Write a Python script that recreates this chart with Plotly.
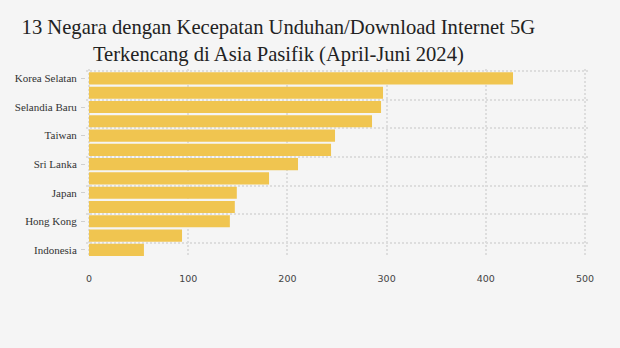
import plotly.graph_objects as go

# Median 5G download speed (Mbps), April–June 2024, fastest first
countries = [
    "Korea Selatan", "Malaysia", "Selandia Baru", "Australia", "Taiwan",
    "Singapura", "Sri Lanka", "Thailand", "Japan", "Filipina",
    "Hong Kong", "India", "Indonesia",
]
speeds = [427.4, 296.4, 294.4, 285.3, 248.0, 244.0, 210.7, 181.5, 149.0, 147.0, 142.0, 93.8, 55.4]

positions = list(range(len(countries)))
label_pos = positions[::2]
label_text = countries[::2]
# horizontal grid runs along the edge of every pair of bars
grid_pos = [-0.5] + [p + 1.5 for p in positions[::2][:-1]]

x_ticks = [0, 100, 200, 300, 400, 500]
y_range = [12.5, -0.66]

fig = go.Figure()
fig.add_trace(go.Bar(
    x=speeds,
    y=positions,
    orientation="h",
    marker=dict(color="#f0c550", line=dict(width=0)),
    hovertemplate="%{text}: %{x} Mbps<extra></extra>",
    text=countries,
    textposition="none",
))
# invisible carrier so the pair-boundary grid axis gets drawn
fig.add_trace(go.Scatter(
    x=[0] * len(grid_pos),
    y=grid_pos,
    yaxis="y2",
    mode="markers",
    marker=dict(opacity=0),
    hoverinfo="skip",
))

grid_style = dict(gridcolor="#dddddd", griddash="2px,2px", gridwidth=2)

fig.update_layout(
    width=620,
    height=348,
    paper_bgcolor="#f5f5f5",
    plot_bgcolor="#f5f5f5",
    margin=dict(l=86, r=32, t=69, b=91),
    bargap=0.15,
    showlegend=False,
    title=dict(
        text="13 Negara dengan Kecepatan Unduhan/Download Internet 5G<br>Terkencang di Asia Pasifik (April-Juni 2024)",
        x=0.449, xanchor="center",
        yref="container", y=0.902, yanchor="top",
        font=dict(family="Liberation Serif", size=20.6, color="#222222"),
    ),
    xaxis=dict(
        range=[-3, 503],
        tickvals=x_ticks,
        showgrid=True,
        zeroline=False,
        showline=False,
        ticks="",
        tickfont=dict(family="DejaVu Sans", size=9.5, color="#444444"),
        ticklabelstandoff=14,
        **grid_style,
    ),
    yaxis=dict(
        range=y_range,
        tickvals=label_pos,
        ticktext=label_text,
        showgrid=False,
        zeroline=False,
        showline=False,
        ticks="outside",
        ticklen=4,
        tickcolor="#d0d0d0",
        ticklabelstandoff=2,
        tickfont=dict(family="Liberation Serif", size=11, color="#333333"),
    ),
    yaxis2=dict(
        range=y_range,
        overlaying="y",
        tickvals=grid_pos,
        showticklabels=False,
        showgrid=True,
        zeroline=False,
        showline=False,
        ticks="",
        **grid_style,
    ),
)

fig.write_html("out.html")
